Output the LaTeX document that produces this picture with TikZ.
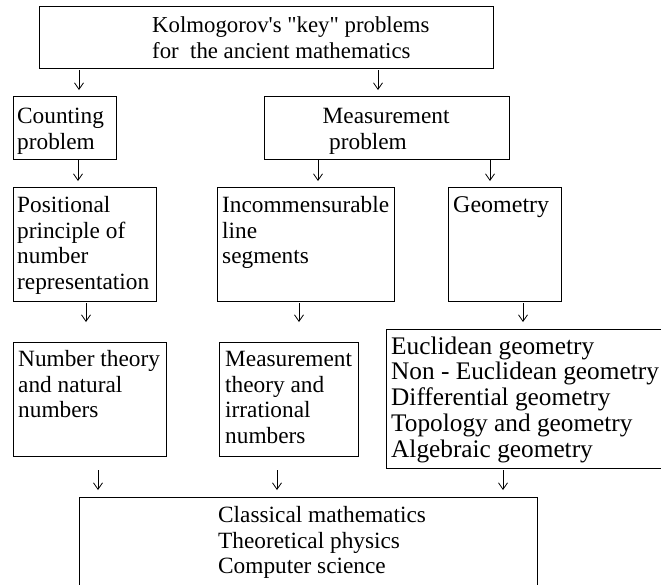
\documentclass[tikz,border=0pt]{standalone}
\usepackage{fontspec}
\setmainfont{Liberation Serif}[Ligatures=TeXOff]
\usetikzlibrary{arrows.meta}
\newcommand\fstrut{\rule{0pt}{20pt}}
\begin{document}
\begin{tikzpicture}[x=1pt,y=-1pt,
  box/.style={draw=black,line width=0.9pt,anchor=north west,inner sep=0pt},
  txt/.style={anchor=north west,inner sep=0pt,align=left,font=\fontsize{23.3}{25.8}\selectfont},
  arr/.style={line width=0.8pt,-{Straight Barb[length=6.5pt,width=9pt]}}]
\useasboundingbox (0,0) rectangle (661,584);
\clip (0,0) rectangle (661,584);
% boxes
\node[box,minimum width=454pt,minimum height=62pt] (bTop) at (38.5,6) {};
\node[box,minimum width=103.5pt,minimum height=63pt] (bCount) at (12.5,96) {};
\node[box,minimum width=245pt,minimum height=63pt] (bMeas) at (264,96) {};
\node[box,minimum width=143.5pt,minimum height=114pt] (bPos) at (12.5,187) {};
\node[box,minimum width=177pt,minimum height=114pt] (bInc) at (217,187) {};
\node[box,minimum width=113pt,minimum height=114pt] (bGeo) at (448,187) {};
\node[box,minimum width=153.5pt,minimum height=114pt] (bNum) at (12.5,342) {};
\node[box,minimum width=139pt,minimum height=114pt] (bMth) at (219,342) {};
\node[box,minimum width=314pt,minimum height=139pt] (bEuc) at (386,329) {};
\node[box,minimum width=458pt,minimum height=123pt] (bOut) at (79,497) {};
% texts
\node[txt,font=\fontsize{22.8}{26}\selectfont] (tTop) at (152,12) {\fstrut Kolmogorov's "key" problems\\for~ the ancient mathematics};
\node[txt] (tCount) at (17,103) {\fstrut Counting\\problem};
\node[txt] (tMeas) at (322.5,103) {\fstrut Measurement\\\hspace*{6.5pt}problem};
\node[txt] (tPos) at (17,192) {\fstrut Positional\\principle of\\number\\representation};
\node[txt] (tInc) at (222,192) {\fstrut Incommensurable\\line\\segments};
\node[txt,font=\fontsize{24}{25.8}\selectfont] (tGeo) at (453,192) {\fstrut Geometry};
\node[txt] (tNum) at (18,346) {\fstrut Number theory\\and natural\\numbers};
\node[txt] (tMth) at (225,346) {\fstrut Measurement\\theory and\\irrational\\numbers};
\node[txt,font=\fontsize{25.3}{25.75}\selectfont] (tEuc) at (391,334) {\fstrut Euclidean geometry\\Non - Euclidean geometry\\Differential geometry\\Topology and geometry\\Algebraic geometry};
\node[txt] (tOut) at (218,502) {\fstrut Classical mathematics\\Theoretical physics\\Computer science};
% arrow end points
\coordinate (a1t) at (79,70);  \coordinate (a1b) at (79,90);
\coordinate (a2t) at (378,70); \coordinate (a2b) at (378,90);
\coordinate (b1t) at (78,160);  \coordinate (b1b) at (78,181);
\coordinate (b2t) at (318,160); \coordinate (b2b) at (318,181);
\coordinate (b3t) at (490,160); \coordinate (b3b) at (490,181);
\coordinate (c1t) at (86,303);  \coordinate (c1b) at (86,322);
\coordinate (c2t) at (299,303); \coordinate (c2b) at (299,322);
\coordinate (c3t) at (523,303); \coordinate (c3b) at (523,322);
\coordinate (d1t) at (98,470);  \coordinate (d1b) at (98,490);
\coordinate (d2t) at (277,470); \coordinate (d2b) at (277,490);
\coordinate (d3t) at (503,470); \coordinate (d3b) at (503,490);
\draw[arr] (a1t) -- (a1b);
\draw[arr] (a2t) -- (a2b);
\draw[arr] (b1t) -- (b1b);
\draw[arr] (b2t) -- (b2b);
\draw[arr] (b3t) -- (b3b);
\draw[arr] (c1t) -- (c1b);
\draw[arr] (c2t) -- (c2b);
\draw[arr] (c3t) -- (c3b);
\draw[arr] (d1t) -- (d1b);
\draw[arr] (d2t) -- (d2b);
\draw[arr] (d3t) -- (d3b);
\end{tikzpicture}
\end{document}
